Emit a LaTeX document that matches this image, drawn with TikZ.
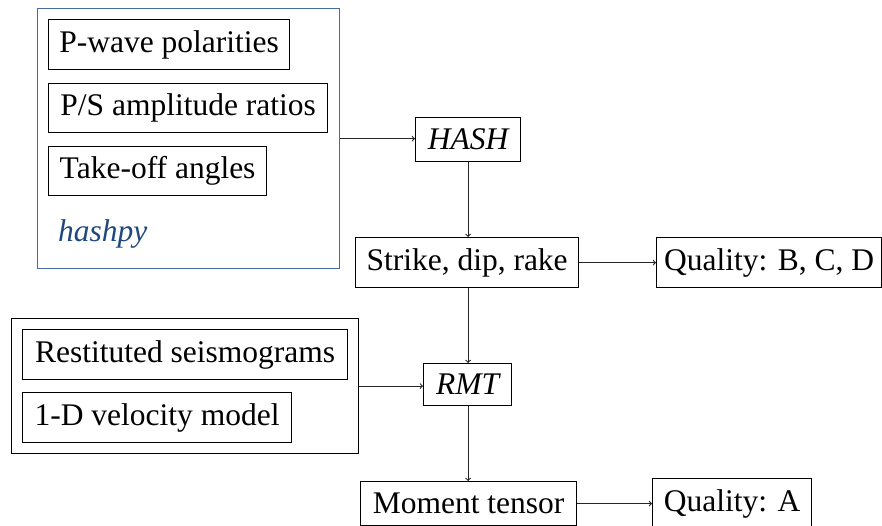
\documentclass[tikz,border=0pt]{standalone}
\usepackage{fontspec}
\setmainfont{Liberation Serif}
\definecolor{frameblue}{RGB}{70,108,160}
\definecolor{textblue}{RGB}{31,73,125}
\begin{document}
\begin{tikzpicture}[x=1pt,y=-1pt,
  every node/.style={font=\fontsize{31.5}{36}\selectfont},
  box/.style={draw=black, line width=1.2pt, anchor=north west, inner sep=0pt},
  conn/.style={draw=black!85, line width=1.1pt, ->, >=to}]
\useasboundingbox (0,0) rectangle (882,525);
% hashpy group
\node[box, draw=frameblue, minimum width=302pt, minimum height=260pt] (hg) at (37,8) {};
\node[box, minimum width=241pt, minimum height=50pt] (pw) at (48,19) {P-wave polarities};
\node[box, minimum width=279pt, minimum height=49pt] (ps) at (48,83) {P/S amplitude ratios};
\node[box, minimum width=218pt, minimum height=49pt] (to) at (48,146) {Take-off angles};
\node[anchor=base west, inner sep=0pt, text=textblue] (hp) at (58,241) {\itshape hashpy};
% RMT inputs group
\node[box, minimum width=347pt, minimum height=135pt] (rg) at (11,318) {};
\node[box, minimum width=325pt, minimum height=50pt] (rs) at (22,329) {Restituted seismograms};
\node[box, minimum width=269pt, minimum height=50pt] (vm) at (22,392) {1-D velocity model};
% process boxes
\node[box, minimum width=105pt, minimum height=44pt] (hash) at (415,117) {\itshape HASH};
\node[box, minimum width=223pt, minimum height=50pt] (sdr) at (355,237) {Strike, dip, rake};
\node[box, minimum width=225pt, minimum height=50pt] (qbcd) at (656,237) {Quality: B, C, D};
\node[box, minimum width=88pt, minimum height=42pt] (rmt) at (423,363) {\itshape RMT};
\node[box, minimum width=216pt, minimum height=44pt] (mt) at (360,481) {Moment tensor};
\node[box, minimum width=159pt, minimum height=50pt] (qa) at (652,478) {Quality: A};
% connectors
\draw[conn] (hg.east) -- (hg.east -| hash.west);
\draw[conn] (hash.south) -- (sdr.north -| hash.south);
\draw[conn] (sdr.east) -- (qbcd.west |- sdr.east);
\draw[conn] (sdr.south -| hash.south) -- (rmt.north -| hash.south);
\draw[conn] (rg.east) -- (rg.east -| rmt.west);
\draw[conn] (rmt.south -| hash.south) -- (mt.north -| hash.south);
\draw[conn] (mt.east) -- (mt.east -| qa.west);
\end{tikzpicture}
\end{document}
